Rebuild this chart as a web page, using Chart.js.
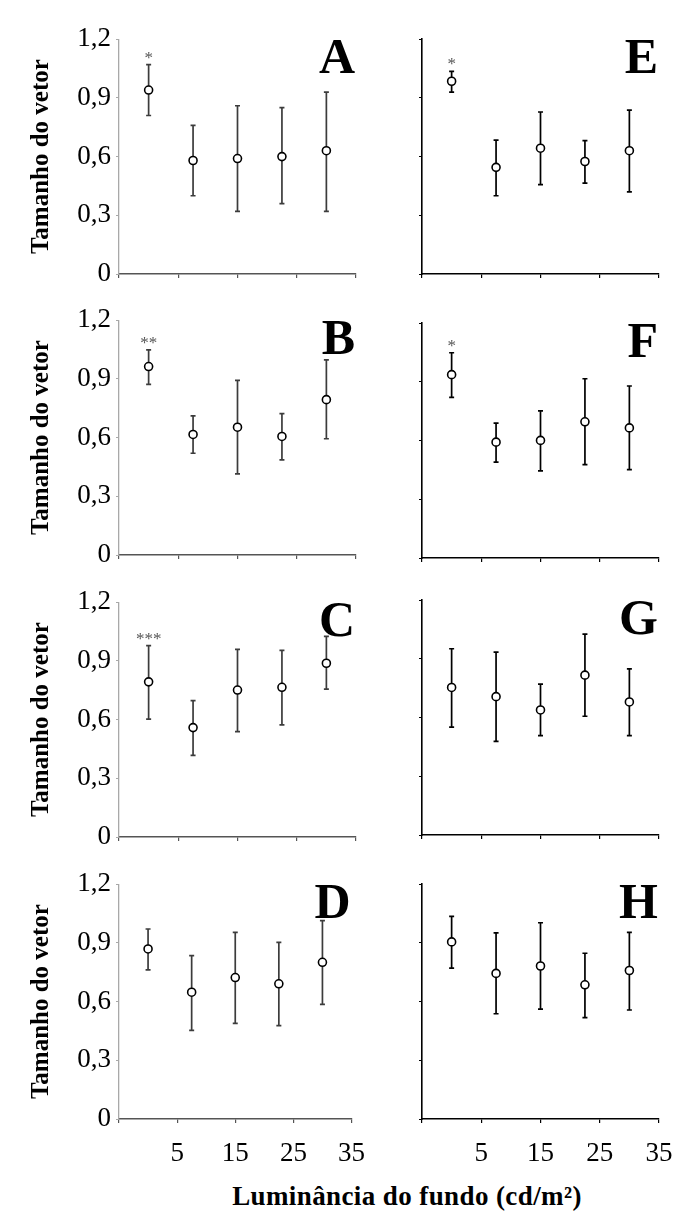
<!DOCTYPE html>
<html><head><meta charset="utf-8">
<script src="https://cdn.jsdelivr.net/npm/chart.js@4/dist/chart.umd.min.js"></script>
<style>
body{margin:0;background:#fff;width:692px;height:1215px;position:relative;overflow:hidden}
canvas{position:absolute}
#xtitle{position:absolute;left:407px;top:1183px;transform:translateX(-50%);white-space:nowrap;
font-family:"Liberation Serif","Times New Roman",serif;font-weight:bold;font-size:27px;line-height:27px;letter-spacing:0.4px;color:#000}
</style></head><body>
<div id="xtitle">Luminância do fundo (cd/m²)</div>
<script>
// ---- data ----
const luminance = [0, 7.5, 15, 22.5, 30];
const xTickLabels = ['', '5', '15', '25', '35'];
const yTickLabels = ['0', '0,3', '0,6', '0,9', '1,2'];
const yAxisTitle = 'Tamanho do vetor';

const meanA = [0.94, 0.58, 0.59, 0.60, 0.63];
const lowA  = [0.81, 0.40, 0.32, 0.36, 0.32];
const highA = [1.07, 0.76, 0.86, 0.85, 0.93];

const meanB = [0.963, 0.616, 0.653, 0.606, 0.794];
const lowB  = [0.872, 0.52, 0.415, 0.486, 0.594];
const highB = [1.048, 0.711, 0.892, 0.723, 0.997];

const meanC = [0.793, 0.559, 0.751, 0.765, 0.888];
const lowC  = [0.602, 0.417, 0.539, 0.573, 0.756];
const highC = [0.978, 0.697, 0.959, 0.954, 1.025];

const meanD = [0.869, 0.648, 0.723, 0.691, 0.801];
const lowD  = [0.762, 0.453, 0.489, 0.477, 0.586];
const highD = [0.971, 0.835, 0.954, 0.903, 1.014];

const meanE = [0.985, 0.545, 0.643, 0.575, 0.63];
const lowE  = [0.93, 0.40, 0.457, 0.464, 0.42];
const highE = [1.036, 0.684, 0.828, 0.682, 0.838];

const meanF = [0.937, 0.592, 0.601, 0.696, 0.665];
const lowF  = [0.821, 0.49, 0.445, 0.477, 0.452];
const highF = [1.049, 0.689, 0.752, 0.916, 0.879];

const meanG = [0.754, 0.707, 0.639, 0.817, 0.68];
const lowG  = [0.551, 0.478, 0.508, 0.607, 0.508];
const highG = [0.952, 0.935, 0.771, 1.027, 0.849];

const meanH = [0.905, 0.744, 0.782, 0.686, 0.759];
const lowH  = [0.771, 0.538, 0.562, 0.518, 0.557];
const highH = [1.036, 0.951, 1.003, 0.847, 0.954];

const panelLetters = ['A','B','C','D','E','F','G','H'];
const significance = ['*', '**', '***', '', '*', '*', '', ''];

// ---- layout ----
const SERIF = '"Liberation Serif","Times New Roman",serif';
const PAD_TOP = 20, PLOT_H = 236, XAXIS_H = 60;
const panels = [
  {mean:meanA, low:lowA, high:highA, col:0, top:38},
  {mean:meanB, low:lowB, high:highB, col:0, top:319},
  {mean:meanC, low:lowC, high:highC, col:0, top:601},
  {mean:meanD, low:lowD, high:highD, col:0, top:883},
  {mean:meanE, low:lowE, high:highE, col:1, top:38},
  {mean:meanF, low:lowF, high:highF, col:1, top:322},
  {mean:meanG, low:lowG, high:highG, col:1, top:599},
  {mean:meanH, low:lowH, high:highH, col:1, top:883}
];

const errorBarPlugin = {
  id: 'errorBarPlugin',
  beforeDatasetsDraw(chart) {
    const {ctx, scales:{x, y}} = chart;
    chart.data.datasets.forEach(ds => {
      ctx.save();
      ctx.strokeStyle = ds.barColor;
      ctx.lineWidth = 1.7;
      ds.data.forEach((pt, i) => {
        const px = x.getPixelForValue(pt.x);
        const y1 = y.getPixelForValue(ds.errLow[i]);
        const y2 = y.getPixelForValue(ds.errHigh[i]);
        ctx.beginPath();
        ctx.moveTo(px, y1); ctx.lineTo(px, y2);
        ctx.moveTo(px - 2.5, y1); ctx.lineTo(px + 2.5, y1);
        ctx.moveTo(px - 2.5, y2); ctx.lineTo(px + 2.5, y2);
        ctx.stroke();
      });
      if (ds.sig) {
        const px = x.getPixelForValue(ds.data[0].x);
        const py = y.getPixelForValue(ds.errHigh[0]);
        ctx.fillStyle = '#555';
        ctx.font = '17px ' + SERIF;
        ctx.textAlign = 'center';
        ctx.textBaseline = 'alphabetic';
        ctx.fillText(ds.sig, px, py - 2);
      }
      ctx.restore();
    });
  },
  afterDraw(chart) {
    const {ctx, chartArea} = chart;
    const ds = chart.data.datasets[0];
    ctx.save();
    ctx.fillStyle = '#000';
    ctx.font = 'bold 50px ' + SERIF;
    ctx.textAlign = 'right';
    ctx.textBaseline = 'alphabetic';
    ctx.fillText(ds.letter, chartArea.right - 1, chartArea.top + 34);
    ctx.restore();
  }
};

panels.forEach((p, idx) => {
  const left = p.col === 0;
  const bottomRow = (idx % 4) === 3;
  const cv = document.createElement('canvas');
  const cw = left ? 380 : 312;
  const ch = PAD_TOP + PLOT_H + XAXIS_H;
  cv.width = cw; cv.height = ch;
  cv.style.left = (left ? 0 : 380) + 'px';
  cv.style.top = (p.top - PAD_TOP) + 'px';
  cv.style.width = cw + 'px'; cv.style.height = ch + 'px';
  document.body.appendChild(cv);
  const yAxisColor = left ? '#a8a8a8' : '#000';
  const xAxisColor = left ? '#555' : '#000';
  const barColor = left ? '#3c3c3c' : '#000';
  new Chart(cv, {
    type: 'scatter',
    data: {
      datasets: [{
        data: luminance.map((v, i) => ({x: v, y: p.mean[i]})),
        errLow: p.low, errHigh: p.high, barColor: barColor,
        letter: panelLetters[idx], sig: significance[idx],
        pointRadius: 4, pointHoverRadius: 4,
        pointBackgroundColor: '#fff', pointBorderColor: '#000', pointBorderWidth: 1.6,
        showLine: false
      }]
    },
    options: {
      responsive: false, animation: false, devicePixelRatio: 1,
      layout: {padding: {top: PAD_TOP, right: left ? 24 : 33, left: 0, bottom: 0}},
      plugins: {legend: {display: false}, tooltip: {enabled: false}},
      scales: {
        x: {
          type: 'linear', min: -5, max: 35,
          afterFit: s => { s.height = XAXIS_H; },
          ticks: {stepSize: 10, padding: 15, color: '#000',
            font: {family: SERIF, size: 27},
            callback: (v, i) => bottomRow ? xTickLabels[i] : ''},
          grid: {display: true, drawOnChartArea: false, drawTicks: true, tickLength: 4, color: xAxisColor, lineWidth: 1.2},
          border: {display: true, color: xAxisColor, width: 1.4}
        },
        y: {
          type: 'linear', min: 0, max: 1.2,
          afterFit: s => { s.width = left ? 119 : 42; },
          ticks: {stepSize: 0.3, padding: 5, color: '#000',
            font: {family: SERIF, size: 27},
            callback: (v, i) => left ? yTickLabels[i] : ''},
          grid: {display: true, drawOnChartArea: false, drawTicks: true, tickLength: 3, color: yAxisColor, lineWidth: 1},
          border: {display: true, color: yAxisColor, width: left ? 1.3 : 1.6},
          title: {display: left, text: yAxisTitle, color: '#000',
            font: {family: SERIF, size: 25, weight: 'bold'}, padding: {top: 27, bottom: 0}}
        }
      }
    },
    plugins: [errorBarPlugin]
  });
});
</script>
</body></html>
